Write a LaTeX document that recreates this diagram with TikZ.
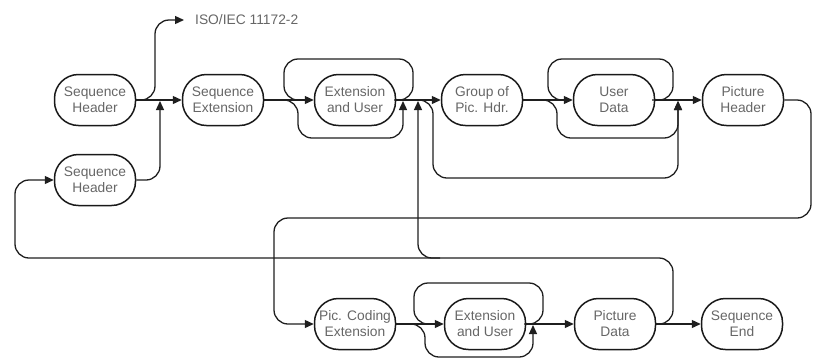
\documentclass[tikz,border=0pt]{standalone}
\usepackage{fontspec}
\setmainfont{Liberation Sans}
\usetikzlibrary{arrows.meta}
\begin{document}
\begin{tikzpicture}[x=1pt,y=-1pt,
  box/.style={draw=black!90, line width=1.5pt, rounded corners=24pt, minimum width=81pt, minimum height=51pt, inner sep=0pt, align=center, font=\fontsize{13.8}{16}\selectfont, text=black!60},
  lbl/.style={anchor=west, inner xsep=11pt, inner ysep=0pt, font=\fontsize{13.8}{16}\selectfont, text=black!60},
  ln/.style={draw=black!88, line width=1.3pt, rounded corners=14pt},
  arr/.style={ln, -{Triangle[length=9pt,width=8pt]}},
]
\useasboundingbox (0,0) rectangle (813,360);
% nodes
\node[box] (sh1) at (95,100) {Sequence\\Header};
\node[box] (sh2) at (95,180) {Sequence\\Header};
\node[box] (se) at (223,100) {Sequence\\Extension};
\node[box] (eu1) at (355,100) {Extension\\and User};
\node[box] (gop) at (482,100) {Group of\\Pic. Hdr.};
\node[box] (ud) at (614,100) {User\\Data};
\node[box] (ph) at (743,100) {Picture\\Header};
\node[box] (pce) at (355,324) {Pic. Coding\\Extension};
\node[box] (eu2) at (485,324) {Extension\\and User};
\node[box] (pd) at (615,324) {Picture\\Data};
\node[box] (send) at (742,324) {Sequence\\End};
\node[lbl] (iso) at (184,20) {ISO/IEC 11172-2};
% top row
\draw[arr] (sh1.east) -- (se.west);
\draw[arr] (sh1.east) -| (155,20) -- (iso.west);
\draw[arr] (sh2.east) -| (160,101);
\draw[arr] (se.east) -- (eu1.west);
\draw[ln] (394,100) -| (413,59) -| (284,100) -- (305,100);
\draw[arr] (278,100) -| (298,138) -| (403,101);
\draw[arr] (eu1.east) -- (gop.west);
\draw[arr] (415,100) -| (433,178) -| (678,101);
\draw[arr] (gop.east) -- (ud.west);
\draw[ln] (652,100) -| (673,59) -| (548,100) -- (565,100);
\draw[arr] (538,100) -| (557,138) -| (678,101);
\draw[arr] (ud.east) -- (ph.west);
% link to bottom row
\draw[arr] (ph.east) -| (811,218) -| (274,324) -- (pce.west);
% bottom row
\draw[arr] (pce.east) -- (eu2.west);
\draw[ln] (524,324) -| (543,283) -| (414,324) -- (432,324);
\draw[arr] (403,324) -| (425,357) -| (533,325);
\draw[arr] (eu2.east) -- (pd.west);
\draw[arr] (pd.east) -- (send.west);
\draw[arr] (pd.east) -| (673,258) -| (15,180) -- (sh2.west);
\draw[arr] (440,258) -| (418,101);
\end{tikzpicture}
\end{document}
